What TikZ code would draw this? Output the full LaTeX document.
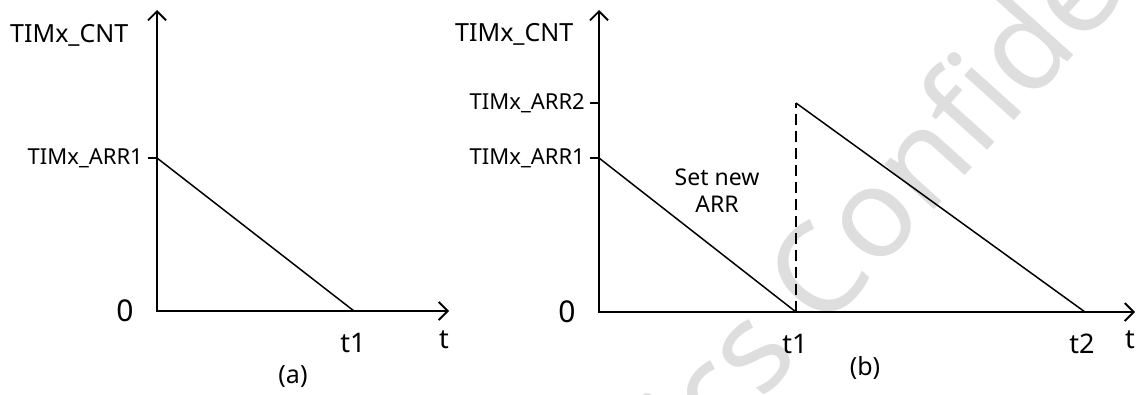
\documentclass[tikz,border=0pt]{standalone}
\usepackage{fontspec}
\setmainfont{Noto Sans}
\usetikzlibrary{arrows.meta}
\begin{document}
\begin{tikzpicture}[x=1pt,y=-1pt,
  axisline/.style={line width=1.8pt, line join=miter,
    {Straight Barb[length=9pt,width=18pt]}-{Straight Barb[length=9pt,width=18pt]}},
  ramp/.style={line width=1.5pt},
  tickmark/.style={line width=1.5pt},
  jump/.style={line width=1.5pt, dash pattern=on 11pt off 6pt},
  biglbl/.style={inner sep=0pt, font=\fontsize{25}{30}\selectfont},
  arrlbl/.style={inner sep=0pt, anchor=east, font=\fontsize{22}{26}\selectfont},
  zerolbl/.style={inner sep=0pt, font=\fontsize{30}{34}\selectfont},
  tlbl/.style={inner sep=0pt, font=\fontsize{27}{30}\selectfont},
  caplbl/.style={inner sep=0pt, font=\fontsize{25}{30}\selectfont},
  note/.style={inner sep=0pt, align=center, font=\fontsize{23}{27}\selectfont},
  wmark/.style={inner sep=0pt, text=black!13, font=\fontsize{125}{125}\selectfont}
]
\useasboundingbox (0,0) rectangle (1137,394);
% watermark
\begin{scope}
\clip (0,0) rectangle (1137,394);
\node[wmark, rotate=48, anchor=base west] (wm) at (700,470) {ics Confidential};
\end{scope}

% ---------- panel (a) ----------
\coordinate (aO) at (157,311);
\coordinate (aY) at (157,10);
\coordinate (aX) at (449,311);
\coordinate (aA1) at (157,158);
\coordinate (aA1t) at (148,158);
\coordinate (aT1) at (354,311);
\draw[axisline] (aY) -- (aO) -- (aX);
\draw[tickmark] (aA1t) -- (aA1);
\draw[ramp] (aA1) -- (aT1);
\node[biglbl, anchor=west] (aCNT) at (10,35) {TIMx\_CNT};
\node[arrlbl] (aARR1) at (143,158) {TIMx\_ARR1};
\node[zerolbl] (a0) at (125,311) {0};
\node[tlbl] (at1) at (353,343) {t1};
\node[tlbl] (at) at (444,340) {t};
\node[caplbl] (acap) at (293,377) {(a)};

% ---------- panel (b) ----------
\coordinate (bO) at (599,312);
\coordinate (bY) at (599,10);
\coordinate (bX) at (1135,312);
\coordinate (bA2) at (599,103);
\coordinate (bA2t) at (590,103);
\coordinate (bA1) at (599,158);
\coordinate (bA1t) at (590,158);
\coordinate (bT1) at (796,312);
\coordinate (bPk) at (796,103);
\coordinate (bT2) at (1085,312);
\draw[axisline] (bY) -- (bO) -- (bX);
\draw[tickmark] (bA2t) -- (bA2);
\draw[tickmark] (bA1t) -- (bA1);
\draw[ramp] (bA1) -- (bT1);
\draw[jump] (bT1) -- (bPk);
\draw[ramp] (bPk) -- (bT2);
\node[biglbl, anchor=west] (bCNT) at (455,34) {TIMx\_CNT};
\node[arrlbl] (bARR2) at (585,103) {TIMx\_ARR2};
\node[arrlbl] (bARR1) at (585,158) {TIMx\_ARR1};
\node[zerolbl] (b0) at (567,312) {0};
\node[tlbl] (bt1) at (795,344) {t1};
\node[tlbl] (bt2) at (1082,344) {t2};
\node[tlbl] (bt) at (1130,340) {t};
\node[caplbl] (bcap) at (865,368) {(b)};
\node[note] (setarr) at (717,191) {Set new\\ARR};
\end{tikzpicture}
\end{document}
